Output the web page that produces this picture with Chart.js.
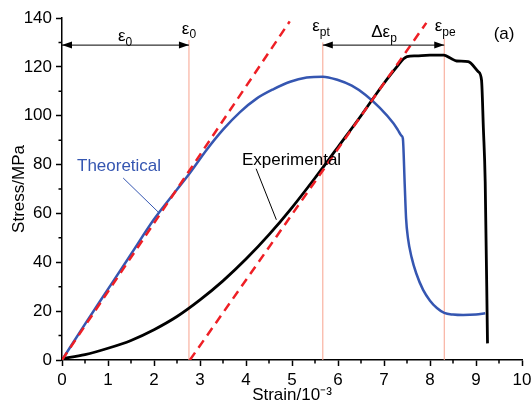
<!DOCTYPE html>
<html>
<head>
<meta charset="utf-8">
<script src="https://cdn.jsdelivr.net/npm/chart.js@4.4.1/dist/chart.umd.min.js"></script>
<style>
  html, body { margin: 0; padding: 0; background: #fff; }
</style>
</head>
<body>
<canvas id="stressChart" width="531" height="406"></canvas>
<script>
// theoretical curve
var theoStrain = [0, 0.5, 1.0, 1.5, 2.0, 2.5, 2.78, 3.15, 3.51, 3.87, 4.23, 4.59, 4.96, 5.32, 5.67, 6.0, 6.3, 6.6, 6.91, 7.2, 7.3, 7.38, 7.41, 7.45, 7.48, 7.52, 7.6, 7.7, 7.85, 8.0, 8.15, 8.31, 8.5, 8.72, 9.0, 9.2];
var theoStress = [0, 14.7, 29, 43.3, 57.6, 69.8, 76.6, 86.2, 94.5, 101.5, 107, 110.8, 113.9, 115.6, 116, 114.6, 112.3, 108.5, 103.2, 97, 94.2, 91.8, 90.7, 72, 58, 50, 42, 35.5, 28.7, 24.3, 21.3, 19.3, 18.6, 18.4, 18.6, 19.1];

// experimental curve
var expStrain = [0, 0.5, 1.0, 1.5, 2.0, 2.5, 3.0, 3.5, 4.0, 4.5, 5.0, 5.5, 5.75, 6.0, 6.5, 7.0, 7.3, 7.42, 7.5, 7.7, 8.0, 8.3, 8.45, 8.58, 8.83, 9.05, 9.12, 9.16, 9.2, 9.25];
var expStress = [0.5, 2.2, 4.8, 8.0, 12.4, 17.8, 24.6, 32.4, 41.3, 51.3, 62.4, 74.5, 80.8, 87.2, 100, 113.3, 120.5, 123.2, 124.2, 124.5, 124.8, 124.8, 123.5, 122.4, 122.1, 118, 114.6, 95, 73, 6.8];

// dashed elastic lines
var line1Strain = [0, 4.95];
var line1Stress = [0, 138.6];
var line2Strain = [2.78, 7.92];
var line2Stress = [0, 138];

// thin marker lines (eps_0, eps_pt, eps_pe)
var markStrain = [2.76, 5.67, 8.31];
var markTop = [131, 130, 131.5];

var xMin = 0, xMax = 10, xStep = 0.5;
var yMin = 0, yMax = 140, yStep = 10;

function pts(xs, ys) {
  return xs.map(function (x, i) { return { x: x, y: ys[i] }; });
}

var BLUE = '#3556b1';
var RED = '#ee1f25';
var MARK = '#f8a28e';
var FONT = 'Liberation Sans, Arial, sans-serif';

var datasets = [
  { data: pts(line1Strain, line1Stress), borderColor: RED, borderWidth: 2.5, borderDash: [9, 6] },
  { data: pts(line2Strain, line2Stress), borderColor: RED, borderWidth: 2.5, borderDash: [9, 6] },
  { data: pts(expStrain, expStress), borderColor: '#000', borderWidth: 2.8, cubicInterpolationMode: 'monotone' },
  { data: pts(theoStrain, theoStress), borderColor: BLUE, borderWidth: 2.5, cubicInterpolationMode: 'monotone' }
];
markStrain.forEach(function (s, i) {
  datasets.push({ data: pts([s, s], [0, markTop[i]]), borderColor: MARK, borderWidth: 1 });
});

function isWhole(v, step) {
  return Math.abs(v / step - Math.round(v / step)) < 1e-6;
}

// labels, arrows, leader lines, minor ticks
var extras = {
  id: 'extras',
  afterDatasetsDraw: function (chart) {
    var ctx = chart.ctx, x = chart.scales.x, y = chart.scales.y;
    var px = function (v) { return x.getPixelForValue(v); };
    var py = function (v) { return y.getPixelForValue(v); };
    ctx.save();

    // minor ticks
    ctx.strokeStyle = '#000';
    ctx.lineWidth = 1.5;
    ctx.beginPath();
    for (var v = xMin; v <= xMax; v += xStep) {
      if (!isWhole(v, 1)) { ctx.moveTo(px(v), y.bottom); ctx.lineTo(px(v), y.bottom + 3.5); }
    }
    for (var w = yMin; w <= yMax; w += yStep) {
      if (!isWhole(w, 20)) { ctx.moveTo(x.left, py(w)); ctx.lineTo(x.left - 3.5, py(w)); }
    }
    ctx.stroke();

    // double arrows
    function arrow(a, b, s) {
      var yy = py(s), xa = px(a), xb = px(b);
      ctx.strokeStyle = '#000';
      ctx.fillStyle = '#000';
      ctx.lineWidth = 1;
      ctx.beginPath(); ctx.moveTo(xa, yy); ctx.lineTo(xb, yy); ctx.stroke();
      ctx.beginPath(); ctx.moveTo(xa, yy); ctx.lineTo(xa + 10, yy - 3.5); ctx.lineTo(xa + 10, yy + 3.5); ctx.closePath(); ctx.fill();
      ctx.beginPath(); ctx.moveTo(xb, yy); ctx.lineTo(xb - 10, yy - 3.5); ctx.lineTo(xb - 10, yy + 3.5); ctx.closePath(); ctx.fill();
    }
    arrow(0, markStrain[0], 128.9);
    arrow(markStrain[1], markStrain[2], 128.9);

    // symbol with subscript, centred on (sx, sy)
    function sym(main, sub, sx, sy) {
      ctx.fillStyle = '#000';
      ctx.textBaseline = 'middle';
      ctx.textAlign = 'left';
      ctx.font = '17px ' + FONT;
      var w1 = ctx.measureText(main).width;
      ctx.font = '12px ' + FONT;
      var w2 = ctx.measureText(sub).width;
      var x0 = px(sx) - (w1 + w2) / 2, y0 = py(sy);
      ctx.font = '17px ' + FONT;
      ctx.fillText(main, x0, y0);
      ctx.font = '12px ' + FONT;
      ctx.fillText(sub, x0 + w1, y0 + 6);
    }
    sym('\u03b5', '0', 1.37, 132.5);
    sym('\u03b5', '0', 2.76, 135.5);
    sym('\u03b5', 'pt', 5.63, 136.5);
    sym('\u0394\u03b5', 'p', 7.0, 134);
    sym('\u03b5', 'pe', 8.33, 136.5);

    ctx.font = '17px ' + FONT;
    ctx.textAlign = 'center';
    ctx.fillStyle = '#000';
    ctx.fillText('(a)', px(9.61), py(133.5));

    // curve names with leader lines
    ctx.fillStyle = BLUE;
    ctx.fillText('Theoretical', px(1.24), py(79.3));
    ctx.strokeStyle = BLUE;
    ctx.lineWidth = 1;
    ctx.beginPath(); ctx.moveTo(px(1.33), py(74.5)); ctx.lineTo(px(2.09), py(60.6)); ctx.stroke();

    ctx.fillStyle = '#000';
    ctx.fillText('Experimental', px(4.99), py(81.9));
    ctx.strokeStyle = '#000';
    ctx.beginPath(); ctx.moveTo(px(4.22), py(78.3)); ctx.lineTo(px(4.66), py(57.4)); ctx.stroke();

    ctx.restore();
  }
};

new Chart(document.getElementById('stressChart'), {
  type: 'line',
  data: { datasets: datasets },
  options: {
    responsive: false,
    animation: false,
    devicePixelRatio: 1,
    elements: { point: { radius: 0 }, line: { fill: false } },
    layout: { padding: { top: 18, right: 9, left: 0, bottom: 0 } },
    plugins: { legend: { display: false }, tooltip: { enabled: false } },
    scales: {
      x: {
        type: 'linear', min: xMin, max: xMax,
        afterFit: function (s) { s.height = 46; s.paddingLeft = 0; s.paddingRight = 0; },
        border: { display: true, color: '#000', width: 1.5 },
        grid: {
          drawOnChartArea: false, drawTicks: true, tickLength: 6, tickWidth: 1.5,
          tickColor: function (c) { return isWhole(c.tick.value, 1) ? '#000' : 'rgba(0,0,0,0)'; }
        },
        ticks: {
          stepSize: xStep, autoSkip: false, maxRotation: 0, padding: 4, color: '#000',
          font: { family: FONT, size: 17 },
          callback: function (v) { return isWhole(v, 1) ? String(Math.round(v)) : ''; }
        },
        title: {
          display: true, text: 'Strain/10\u207b\u00b3', color: '#000',
          font: { family: FONT, size: 17 }, padding: { top: 0, bottom: 0 }
        }
      },
      y: {
        type: 'linear', min: yMin, max: yMax,
        afterFit: function (s) { s.width = 62; s.paddingTop = 0; s.paddingBottom = 0; },
        border: { display: true, color: '#000', width: 1.5 },
        grid: {
          drawOnChartArea: false, drawTicks: true, tickLength: 6, tickWidth: 1.5,
          tickColor: function (c) { return isWhole(c.tick.value, 20) ? '#000' : 'rgba(0,0,0,0)'; }
        },
        ticks: {
          stepSize: yStep, autoSkip: false, padding: 4, color: '#000',
          font: { family: FONT, size: 17 },
          callback: function (v) { return isWhole(v, 20) ? String(v) : ''; }
        },
        title: {
          display: true, text: 'Stress/MPa', color: '#000',
          font: { family: FONT, size: 17 }, padding: { top: 9, bottom: 0 }
        }
      }
    }
  },
  plugins: [extras]
});
</script>
</body>
</html>
